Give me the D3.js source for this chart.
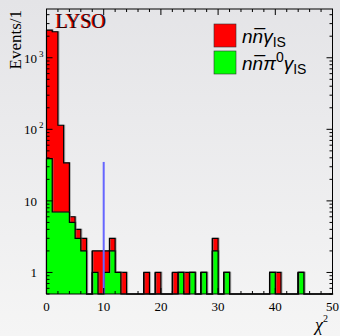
<!DOCTYPE html>
<html>
<head>
<meta charset="utf-8">
<script src="https://cdn.jsdelivr.net/npm/d3@7/dist/d3.min.js"></script>
<style>
  html, body { margin: 0; padding: 0; background: #eeeeef; }
  svg { display: block; }
</style>
</head>
<body>
<svg id="chart" width="340" height="336"></svg>
<script>
// chi^2 distribution, 1-unit bins from 0 to 50
const binLow = d3.range(0, 50);
// all events (n nbar gamma_IS), drawn behind
const totalCounts = [
  2440, 2310, 114, 34, 6, 4, 3, 0, 2, 2,
  2, 3, 1, 1, 0, 0, 0, 1, 0, 1,
  0, 0, 1, 1, 1, 1, 0, 1, 0, 3,
  0, 1, 0, 0, 0, 0, 0, 0, 0, 1,
  1, 0, 0, 0, 1, 0, 0, 0, 0, 0
];
// n nbar pi0 gamma_IS component
const pi0Counts = [
  39, 7, 7, 7, 5, 3, 2, 0, 1, 0,
  1, 2, 1, 0, 0, 0, 0, 0, 0, 0,
  0, 0, 0, 1, 0, 1, 0, 1, 0, 2,
  0, 1, 0, 0, 0, 0, 0, 0, 0, 1,
  0, 0, 0, 0, 1, 0, 0, 0, 0, 0
];
const xTickValues = [0, 10, 20, 30, 40, 50];
const yDecades = [1, 10, 100, 1000];
const cutValue = 10;       // selection cut on chi^2
const cutLineTop = 35;     // height of the cut marker
const seriesColors = ["#ff0000", "#00ff00"];

const svg = d3.select("#chart");
const W = 340, H = 336;

// background gradient
const defs = svg.append("defs");
const grad = defs.append("linearGradient").attr("id", "bg")
  .attr("x1", 0).attr("y1", 0).attr("x2", 0).attr("y2", 1);
grad.append("stop").attr("offset", "0%").attr("stop-color", "#e4e4e7");
grad.append("stop").attr("offset", "100%").attr("stop-color", "#f5f5f5");
svg.append("rect").attr("width", W).attr("height", H).attr("fill", "url(#bg)");

const x = d3.scaleLinear().domain([0, 50]).range([46.5, 332.5]);
const y = d3.scaleLog().domain([0.5, 4800]).range([294, 9]);
const yMin = y.domain()[0];

function stepPoints(counts) {
  const pts = binLow.map((b, i) => [b, counts[i] > 0 ? counts[i] : yMin]);
  pts.push([50, counts[counts.length - 1] > 0 ? counts[counts.length - 1] : yMin]);
  return pts;
}

const area = d3.area()
  .x(d => x(d[0]))
  .y0(y(yMin))
  .y1(d => y(d[1]))
  .curve(d3.curveStepAfter);

const line = d3.line()
  .x(d => x(d[0]))
  .y(d => y(d[1]))
  .curve(d3.curveStepAfter);

const plot = svg.append("g");
[totalCounts, pi0Counts].forEach((counts, k) => {
  const pts = stepPoints(counts);
  plot.append("path").attr("d", area(pts)).attr("fill", seriesColors[k]);
  plot.append("path").attr("d", line(pts))
    .attr("fill", "none").attr("stroke", "#777").attr("stroke-opacity", 0.5)
    .attr("stroke-width", 1.2).attr("transform", "translate(1,0)");
  plot.append("path").attr("d", line(pts))
    .attr("fill", "none").attr("stroke", "#000").attr("stroke-width", 1.2);
  // vertical edges down to the axis for isolated bins
  counts.forEach((c, i) => {
    const prev = i > 0 ? counts[i - 1] : 0;
    if (c > 0 && prev === 0) {
      plot.append("line")
        .attr("x1", x(binLow[i])).attr("x2", x(binLow[i]))
        .attr("y1", y(yMin)).attr("y2", y(c))
        .attr("stroke", "#000").attr("stroke-width", 1.2);
    }
  });
});

// cut marker
svg.append("line")
  .attr("x1", x(cutValue)).attr("x2", x(cutValue))
  .attr("y1", y(yMin)).attr("y2", y(cutLineTop))
  .attr("stroke", "#6666ff").attr("stroke-width", 2);

// frame
const fx0 = x(0), fx1 = x(50), fy0 = y(yMin), fy1 = y(4800);
const frame = svg.append("g").attr("stroke", "#000").attr("stroke-width", 1).attr("fill", "none");
frame.append("rect").attr("x", fx0).attr("y", fy1).attr("width", fx1 - fx0).attr("height", fy0 - fy1);

// x ticks (inward, bottom and top)
const xMinor = d3.range(0, 51, 2);
xMinor.forEach(v => {
  const len = v % 10 === 0 ? 6 : 3;
  frame.append("line").attr("x1", x(v)).attr("x2", x(v)).attr("y1", fy0).attr("y2", fy0 - len);
  frame.append("line").attr("x1", x(v)).attr("x2", x(v)).attr("y1", fy1).attr("y2", fy1 + len);
});
// y ticks (log, inward, left and right)
const yMinorVals = [];
[0.1, 1, 10, 100, 1000].forEach(d => {
  for (let m = 1; m <= 9; m++) {
    const v = d * m;
    if (v >= 0.5 && v <= 4800) yMinorVals.push(v);
  }
});
yMinorVals.forEach(v => {
  const isMajor = yDecades.includes(v);
  const len = isMajor ? 6 : 3;
  frame.append("line").attr("x1", fx0).attr("x2", fx0 + len).attr("y1", y(v)).attr("y2", y(v));
  frame.append("line").attr("x1", fx1).attr("x2", fx1 - len).attr("y1", y(v)).attr("y2", y(v));
});

// x tick labels
const serif = "'Liberation Serif', 'Times New Roman', serif";
const sans = "'Liberation Sans', Arial, sans-serif";
svg.append("g").selectAll("text").data(xTickValues).join("text")
  .attr("x", d => x(d)).attr("y", 311)
  .attr("text-anchor", "middle")
  .attr("font-family", serif).attr("font-size", 13)
  .text(d => d);

// y tick labels
const yl = svg.append("g").attr("font-family", serif).attr("font-size", 13).attr("fill", "#000");
yDecades.forEach(v => {
  const e = Math.round(Math.log10(v));
  if (e === 0) {
    yl.append("text").attr("x", 37).attr("y", y(v) + 5).attr("text-anchor", "end").text("1");
  } else if (e === 1) {
    yl.append("text").attr("x", 37).attr("y", y(v) + 5).attr("text-anchor", "end").text("10");
  } else {
    const t = yl.append("text").attr("x", 24).attr("y", y(v) + 5);
    t.append("tspan").text("10");
    t.append("tspan").attr("dx", 2).attr("dy", -6).attr("font-size", 9).text(e);
  }
});

// axis titles
svg.append("text")
  .attr("transform", "translate(21,10) rotate(-90)")
  .attr("text-anchor", "end")
  .attr("font-family", serif).attr("font-size", 17)
  .text("Events/1");

const xt = svg.append("text").attr("x", 315).attr("y", 331)
  .attr("font-family", serif).attr("font-size", 18);
xt.append("tspan").attr("font-style", "italic").text("χ");
xt.append("tspan").attr("dy", -9).attr("font-size", 10).text("2");

// detector label
const lysoX = 55, lysoY = 28;
svg.append("text").attr("x", lysoX).attr("y", lysoY)
  .attr("font-family", serif).attr("font-size", 20).attr("fill", "#ff0000").text("LYSO");
svg.append("text").attr("x", lysoX + 1).attr("y", lysoY)
  .attr("font-family", serif).attr("font-size", 20).attr("fill", "#000").attr("fill-opacity", 0.85).text("LYSO");

// legend
const legend = svg.append("g");
const legendRows = [{ y: 24 }, { y: 51 }];
legendRows.forEach((r, i) => {
  legend.append("rect").attr("x", 214).attr("y", r.y).attr("width", 22).attr("height", 23)
    .attr("fill", seriesColors[i]).attr("stroke", "#333").attr("stroke-width", 0.6);
  const t = legend.append("text").attr("x", 242).attr("y", r.y + 19)
    .attr("font-family", sans).attr("font-size", 19);
  t.append("tspan").attr("font-style", "italic").text("n");
  t.append("tspan").attr("font-style", "italic").text("n\u0305");
  if (i === 1) {
    t.append("tspan").attr("font-style", "italic").text("π");
    t.append("tspan").attr("dy", -8).attr("font-size", 14).text("0");
    t.append("tspan").attr("dy", 8).attr("font-style", "italic").text("γ");
  } else {
    t.append("tspan").attr("font-style", "italic").text("γ");
  }
  t.append("tspan").attr("dy", 4).attr("font-size", 14).text("IS");
});
</script>
</body>
</html>
